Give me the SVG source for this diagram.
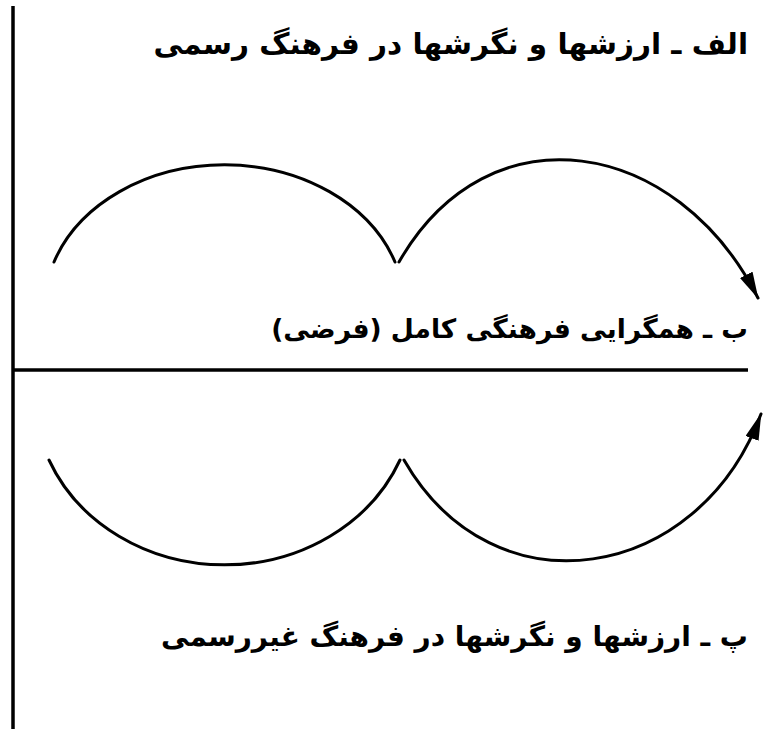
<svg xmlns="http://www.w3.org/2000/svg" width="763" height="729" viewBox="0 0 763 729">
<style>
.frame{stroke:#000;stroke-width:3.5;fill:none}
.arc{stroke:#000;stroke-width:3;fill:none;stroke-linecap:round}
.lbl{font-family:"DejaVu Sans","Noto Sans",sans-serif;font-weight:bold;font-size:29.5px;fill:#000;text-anchor:end}
.lbl2{font-size:26.5px}
.lbl3{font-size:28px}
</style>
<defs>
<marker id="ah" markerUnits="userSpaceOnUse" markerWidth="28" markerHeight="14" refX="26" refY="7" orient="auto">
<path d="M0,0 L27,7 L0,14 z" fill="#000"/>
</marker>
</defs>
<g id="frame">
<line class="frame" x1="13" y1="6" x2="13" y2="729"/>
<line class="frame" x1="13" y1="370" x2="748" y2="370"/>
</g>
<g id="label-a"><text class="lbl" x="748" y="54">&#x200F;الف ـ ارزشها و نگرشها در فرهنگ رسمی&#x200F;</text></g>
<g id="label-b"><text class="lbl lbl2" x="748" y="338">&#x200F;ب ـ همگرایی فرهنگی کامل (فرضی)&#x200F;</text></g>
<g id="label-c"><text class="lbl lbl3" x="748" y="646">&#x200F;پ ـ ارزشها و نگرشها در فرهنگ غیررسمی&#x200F;</text></g>
<g id="connectors">
<path class="arc" d="M54 262 A180 143 0 0 1 395 262"/>
<path class="arc" d="M399 262 C489 105 677 138 758 298" marker-end="url(#ah)"/>
<path class="arc" d="M49 460 A190 170 0 0 0 400 460"/>
<path class="arc" d="M404 460 C494 617 699 582 761 414" marker-end="url(#ah)"/>
</g>
</svg>
